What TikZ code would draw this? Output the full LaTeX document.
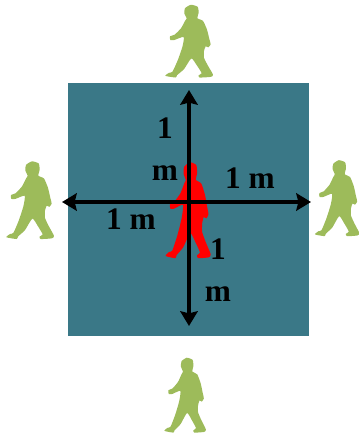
\documentclass[tikz,border=0pt]{standalone}
\usepackage{fontspec}
\setmainfont{Liberation Serif}
\usepackage{tikz}
\usetikzlibrary{arrows.meta, positioning}
\definecolor{fieldteal}{HTML}{3A7887}
\definecolor{walkgreen}{HTML}{9DBB5A}

\begin{document}
\begin{tikzpicture}[
    x=0.75pt, y=-0.75pt,
    field/.style={rectangle, fill=fieldteal, inner sep=0pt, minimum width=180.75pt, minimum height=189.75pt},
    axis/.style={{Stealth[length=11pt, width=13pt, inset=1.5pt]}-{Stealth[length=11pt, width=13pt, inset=1.5pt]}, line width=3.6pt, black},
    lbl/.style={font=\fontsize{23.5}{32}\selectfont\bfseries, align=center, inner sep=0pt, text=black},
    walker/.pic={
        \fill[shift={(-118,-122)}, pic actions] plot[smooth cycle, tension=0.35] coordinates {
            (111,54) (104,40) (106,24) (124,14) (144,20) (147,38) (143,54)
            (160,62) (172,88) (179,116) (183,132) (176,141) (168,138) (163,152)
            (163,172) (175,196) (190,222) (184,229) (150,231) (147,224) (156,218)
            (141,194) (125,174) (103,206) (82,224) (78,231) (47,226) (58,217) (68,214)
            (84,180) (98,140) (102,110) (74,119) (62,119) (61,108) (75,103) (94,84) (106,62)
        };
    }
]
\useasboundingbox (0,0) rectangle (358,434);

\node[field] (square) at (188.5,209.5) {};

% Outer walkers
\pic (walkTop)    [fill=walkgreen, xscale=0.333, yscale=0.335] at (189,41) {walker};
\pic (walkLeft)   [fill=walkgreen, xscale=0.333, yscale=0.358] at (30,200) {walker};
\pic (walkRight)  [fill=walkgreen, xscale=0.31, yscale=0.35] at (337,198) {walker};
\pic (walkBottom) [fill=walkgreen, xscale=0.29, yscale=0.345] at (185,395) {walker};

% Centre walker
\pic (walkCentre) [fill=red, xscale=0.315, yscale=0.442] at (188,210) {walker};

% Axes
\coordinate (top)    at (189,90);
\coordinate (bottom) at (189,326);
\coordinate (left)   at (62,202);
\coordinate (right)  at (311,202);
\draw[axis] (top) -- (bottom);
\draw[axis] (left) -- (right);

\node[lbl] (lblTop)    at (165,149) {1\\m};
\node[lbl] (lblRight)  at (250,178) {1 m};
\node[lbl] (lblLeft)   at (131,219) {1 m};
\node[lbl] (lblBottom) at (218,270) {1\\m};
\end{tikzpicture}
\end{document}
